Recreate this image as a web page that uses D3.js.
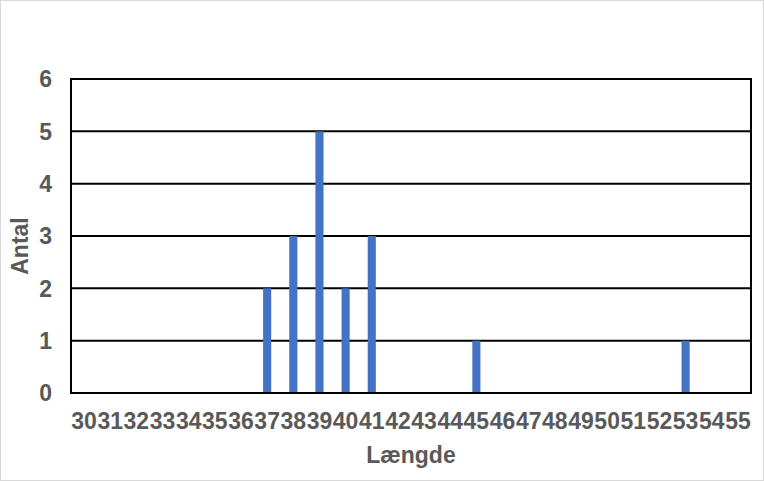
<!DOCTYPE html>
<html>
<head>
<meta charset="utf-8">
<script src="https://cdn.jsdelivr.net/npm/d3@7"></script>
<style>
  body { margin: 0; background: #fff; }
  text { font-family: "Liberation Sans", Arial, sans-serif; font-weight: bold; fill: #595959; }
</style>
</head>
<body>
<div id="chart"></div>
<script>
// Data: lengths 30..55 and counts per length
let lengths = d3.range(30, 56).map(String);
let counts = [0,0,0,0,0,0,0,2,3,5,2,3,0,0,0,1,0,0,0,0,0,0,0,1,0,0];
let yTicks = [0, 1, 2, 3, 4, 5, 6];

let width = 764;
let height = 481;
let margin = { left: 71, right: 13, top: 79, bottom: 88 };

let barColor = "#4472C4";
let fontSize = "23px";

let svg = d3.select("#chart")
    .append("svg")
    .attr("width", width)
    .attr("height", height);

// outer chart border
svg.append("rect")
    .attr("x", 0.5)
    .attr("y", 0.5)
    .attr("width", width - 1)
    .attr("height", height - 1)
    .style("fill", "#fff")
    .style("stroke", "#d9d9d9");

let x = d3.scaleBand()
    .domain(lengths)
    .range([margin.left, width - margin.right])
    .paddingInner(0.69)
    .paddingOuter(0.345);

let y = d3.scaleLinear()
    .domain([0, 6])
    .range([height - margin.bottom, margin.top]);

// gridlines
svg.append("g")
    .selectAll("line")
    .data(yTicks)
    .enter().append("line")
    .attr("x1", margin.left)
    .attr("x2", width - margin.right)
    .attr("y1", d => y(d))
    .attr("y2", d => y(d))
    .style("stroke", "#000")
    .style("stroke-width", 2);

// left and right frame
svg.append("g")
    .selectAll("line")
    .data([margin.left, width - margin.right])
    .enter().append("line")
    .attr("x1", d => d)
    .attr("x2", d => d)
    .attr("y1", y(6) - 1)
    .attr("y2", y(0) + 1)
    .style("stroke", "#000")
    .style("stroke-width", 2);

// bars
svg.append("g")
    .selectAll("rect")
    .data(lengths.map((l, i) => ({ l: l, v: counts[i] })).filter(d => d.v > 0))
    .enter().append("rect")
    .attr("x", d => x(d.l))
    .attr("y", d => y(d.v))
    .attr("width", x.bandwidth())
    .attr("height", d => y(0) - y(d.v) - 1)
    .style("fill", barColor);

// y tick labels
svg.append("g")
    .selectAll("text")
    .data(yTicks)
    .enter().append("text")
    .attr("x", 52)
    .attr("y", d => y(d))
    .attr("dy", "0.36em")
    .attr("text-anchor", "end")
    .style("font-size", fontSize)
    .text(d => d);

// x tick labels
svg.append("g")
    .selectAll("text")
    .data(lengths)
    .enter().append("text")
    .attr("x", d => x(d) + x.bandwidth() / 2)
    .attr("y", 429)
    .attr("text-anchor", "middle")
    .style("font-size", fontSize)
    .text(d => d);

// axis titles
svg.append("text")
    .attr("x", (margin.left + width - margin.right) / 2)
    .attr("y", 463)
    .attr("text-anchor", "middle")
    .style("font-size", fontSize)
    .text("Længde");

svg.append("text")
    .attr("transform", "translate(28,246) rotate(-90)")
    .attr("text-anchor", "middle")
    .style("font-size", fontSize)
    .text("Antal");
</script>
</body>
</html>
